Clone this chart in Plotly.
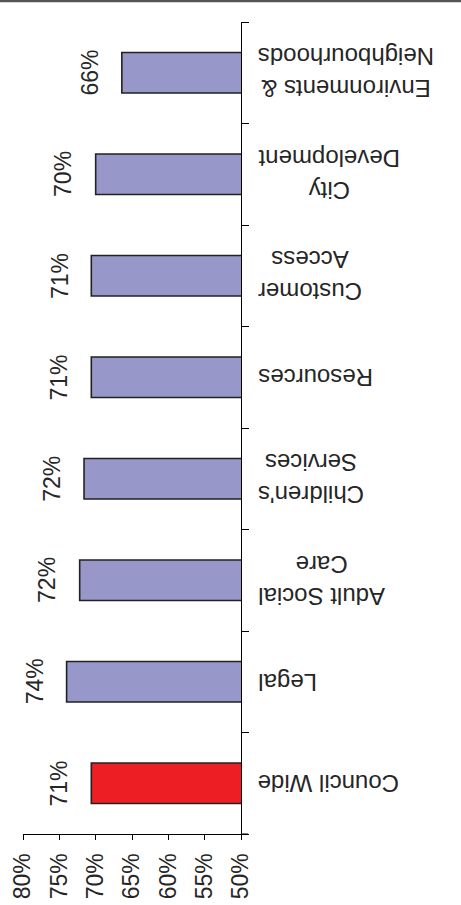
import plotly.graph_objects as go

# Satisfaction scores by directorate (%)
categories = [
    "Council Wide",
    "Legal",
    "Adult Social<br>Care",
    "Children's<br>Services",
    "Resources",
    "Customer<br>Access",
    "City<br>Development",
    "Environments &<br>Neighbourhoods",
]
scores = [70.6, 74.0, 72.2, 71.6, 70.6, 70.6, 70.0, 66.4]
bar_colors = ["#ED1F24"] + ["#9797CA"] * 7
tick_values = [50, 55, 60, 65, 70, 75, 80]
tick_labels = [f"{v}%" for v in tick_values]

W, H = 461, 905
M_L, M_R, M_T, M_B = 23, 220, 22, 71
plot_w = W - M_L - M_R
plot_h = H - M_T - M_B

FONT = "Liberation Sans, Arial, sans-serif"
TEXT = "#262626"

fig = go.Figure(
    go.Bar(
        orientation="h",
        x=scores,
        y=categories,
        width=0.4,
        marker=dict(color=bar_colors, line=dict(color="#222222", width=1.6)),
        hoverinfo="skip",
    )
)

annotations = []
# Category names, printed upside down beside the axis
for cat in categories:
    annotations.append(dict(
        x=1, xref="paper", y=cat, yref="y",
        text=cat, showarrow=False, textangle=180,
        xanchor="left", yanchor="middle", xshift=15, align="center",
        font=dict(family=FONT, size=24, color=TEXT),
    ))
# Value labels beyond the end of each bar
for cat, v in zip(categories, scores):
    annotations.append(dict(
        x=v, xref="x", y=cat, yref="y",
        text=f"{round(v)}%", showarrow=False, textangle=-90,
        xanchor="center", yanchor="middle", xshift=-32,
        font=dict(family=FONT, size=23, color=TEXT),
    ))

shapes = [
    # thin rule along the top of the page
    dict(type="line", xref="paper", yref="paper",
         x0=-M_L / plot_w, x1=1 + M_R / plot_w,
         y0=1 + (M_T - 1) / plot_h, y1=1 + (M_T - 1) / plot_h,
         line=dict(color="#555555", width=2.5)),
    # short stub of the value axis past the category axis
    dict(type="line", xref="paper", yref="paper",
         x0=1, x1=1 + 7 / plot_w, y0=0, y1=0,
         line=dict(color="#000000", width=1)),
]

fig.update_layout(
    width=W, height=H,
    margin=dict(l=M_L, r=M_R, t=M_T, b=M_B, pad=0),
    plot_bgcolor="white", paper_bgcolor="white",
    showlegend=False,
    font=dict(family=FONT, color=TEXT),
    annotations=annotations,
    shapes=shapes,
    xaxis=dict(
        range=[80, 50],
        tickvals=tick_values, ticktext=tick_labels,
        tickangle=-90,
        ticks="outside", ticklen=5, tickcolor="#000000", tickwidth=1,
        ticklabelstandoff=4,
        automargin=False,
        showline=True, linecolor="#000000", linewidth=1,
        showgrid=False, zeroline=False,
        tickfont=dict(family=FONT, size=23, color=TEXT),
    ),
    yaxis=dict(
        type="category",
        categoryorder="array", categoryarray=categories,
        range=[-0.5, len(categories) - 0.5],
        side="right",
        ticks="outside", tickson="boundaries", ticklen=7,
        tickcolor="#000000", tickwidth=1,
        showticklabels=False,
        automargin=False,
        showline=True, linecolor="#000000", linewidth=1,
        showgrid=False, zeroline=False,
    ),
)

fig.write_html("out.html")
